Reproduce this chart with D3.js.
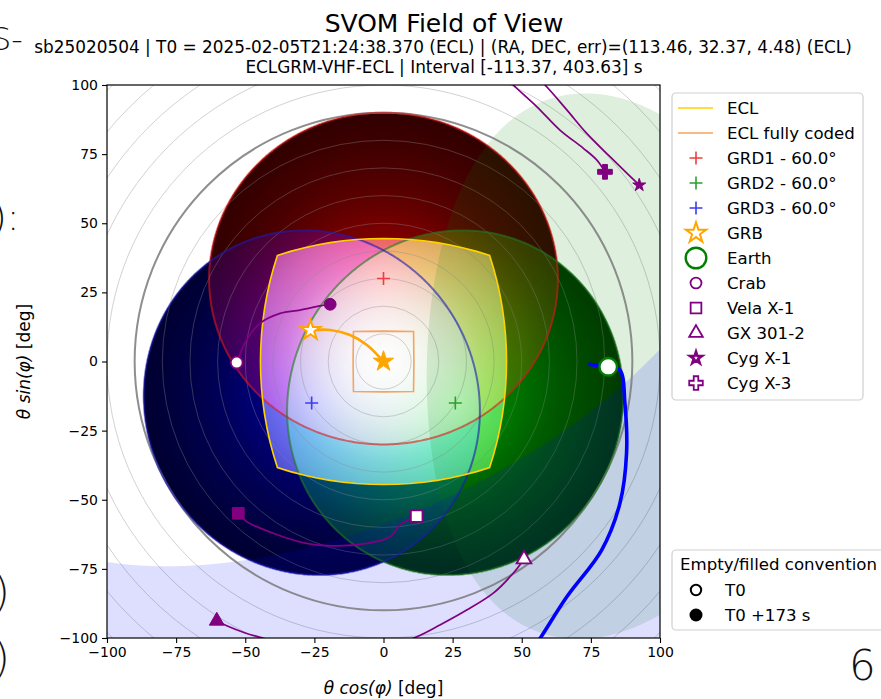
<!DOCTYPE html>
<html lang="en">
<head>
<meta charset="UTF-8">
<title>SVOM Field of View</title>
<script src="https://cdn.jsdelivr.net/npm/d3@7"></script>
<style>
  body { margin: 0; background: #fff; }
  svg text { font-family: "DejaVu Sans", sans-serif; }
</style>
</head>
<body>
<script>
// ---- data ----
var tickValues = [-100, -75, -50, -25, 0, 25, 50, 75, 100];
var gridRadii = [10, 20, 30, 40, 50, 60, 70, 80, 100, 110, 120, 130, 140];
var horizonRadius = 90;

// GRD detectors: (theta, phi) of the axis, angular radius 60 deg
var grdNames = ["GRD1 - 60.0°", "GRD2 - 60.0°", "GRD3 - 60.0°"];
var grdTheta = [30, 30, 30];
var grdPhi = [90, -30, 210];
var grdRadius = 60;

// ECLAIRs field (half size, deg) and fully coded part
var eclHalf = 44.5;
var eclCodedHalf = 11;

// Earth disc at T0 and at T0+173 s (theta, phi), angular radius
var earthTheta = [81.3, 120];
var earthPhi = [-1.34, -65];
var earthRadius = 65.6;

// tracks in plot coordinates (first point T0, last point T0+173 s)
var grbX = [-26.4, -19.3, -12.1, -6, 0];
var grbY = [11.3, 11.4, 9.6, 6, 0];
var crabX = [-53.1, -49.5, -44.7, -37.4, -30.2, -23, -19.3];
var crabY = [-0.4, 7.8, 13.8, 17.4, 18.6, 20.1, 20.7];
var velaX = [12, 6, 2.4, -6.1, -18.2, -27.8, -39.9, -49.5, -52.5];
var velaY = [-55.9, -59.1, -63.4, -65.8, -66.7, -65.8, -62.1, -57.9, -54.9];
var gxX = [50.8, 46.9, 39.7, 30.1, 20.4, 10.8, -5, -25, -42, -50, -56.7, -60.3];
var gxY = [-71.5, -76.6, -83.8, -89.9, -95.3, -100.1, -105, -105.5, -100.5, -98.2, -95.6, -93.8];
var cygX1X = [52, 58.4, 66.3, 73.5, 81.9, 88, 92.5];
var cygX1Y = [106, 100, 91, 82.5, 74.1, 68.1, 63.8];
var cygX3X = [41, 46.9, 55.4, 63.8, 72.3, 77.1, 80.1];
var cygX3Y = [106, 100, 92.2, 83.7, 77.1, 72.9, 68.6];
var earthTrackX = [74.1, 78.3, 81.3, 85.5, 87.3, 87.9, 85.5, 78.9, 66.3, 56.6, 50.7];
var earthTrackY = [-0.9, -1.6, -1.9, -3.1, -15.1, -33.2, -51.3, -68.2, -85.1, -100.2, -108.8];

var legendLabels = ["ECL", "ECL fully coded", "GRD1 - 60.0°", "GRD2 - 60.0°", "GRD3 - 60.0°",
  "GRB", "Earth", "Crab", "Vela X-1", "GX 301-2", "Cyg X-1", "Cyg X-3"];
var conventionLabels = ["T0", "T0 +173 s"];

// ---- layout ----
var W = 881, H = 699;
var x = d3.scaleLinear().domain([-100, 100]).range([107, 660]);
var y = d3.scaleLinear().domain([-100, 100]).range([638, 85]);
var rad = Math.PI / 180;
var purple = "#800080";

var svg = d3.select("body").append("svg")
  .attr("width", W).attr("height", H);
var defs = svg.append("defs");

defs.append("clipPath").attr("id", "plotClip").append("rect")
  .attr("x", x(-100)).attr("y", y(100))
  .attr("width", x(100) - x(-100)).attr("height", y(-100) - y(100));

// azimuthal equidistant projection around the ECLAIRs axis
var proj = d3.geoAzimuthalEquidistant()
  .rotate([0, 0])
  .scale((x(1) - x(0)) / rad)
  .translate([x(0), y(0)])
  .precision(0.1);
var geo = d3.geoPath(proj);

// (theta, phi) relative to the axis -> lon/lat for d3-geo
function sky(theta, phi) {
  var t = theta * rad, p = phi * rad;
  return [Math.atan2(Math.sin(t) * Math.cos(p), Math.cos(t)) / rad,
          Math.asin(Math.sin(t) * Math.sin(p)) / rad];
}
function flat(theta, phi) {
  return [theta * Math.cos(phi * rad), theta * Math.sin(phi * rad)];
}
function gnomonicSquare(half) {
  var t = Math.tan(half * rad);
  var lon = half, lat = Math.atan(t / Math.sqrt(1 + t * t)) / rad;
  return {type: "Polygon", coordinates: [[[-lon, lat], [lon, lat], [lon, -lat], [-lon, -lat], [-lon, lat]]]};
}
function skyCircle(theta, phi, r) {
  return d3.geoCircle().center(sky(theta, phi)).radius(r).precision(0.5)();
}

var grdShapes = grdTheta.map(function(t, i) { return skyCircle(t, grdPhi[i], grdRadius); });
var eclShape = gnomonicSquare(eclHalf);
var eclCodedShape = gnomonicSquare(eclCodedHalf);
var earthShapes = earthTheta.map(function(t, i) { return skyCircle(t, earthPhi[i], earthRadius); });

// radial gradients, radius in deg from (cx, cy); stops [deg, value]
function radial(id, cx, cy, stops, colorOf) {
  var g = defs.append("radialGradient").attr("id", id)
    .attr("gradientUnits", "userSpaceOnUse")
    .attr("cx", x(cx)).attr("cy", y(cy)).attr("r", x(90) - x(0));
  stops.forEach(function(s) {
    var c = colorOf(s[1]);
    g.append("stop").attr("offset", s[0] / 90)
      .attr("stop-color", c[0]).attr("stop-opacity", c[1]);
  });
}
// detector response: full colour on axis, fading with the angle to the axis
var grdRGB = [[1, 0, 0], [0, 1, 0], [0, 0, 1]];
grdTheta.forEach(function(t, i) {
  var c = flat(t, grdPhi[i]);
  radial("grd" + i, c[0], c[1], [[0, 1], [60, 0.45], [90, 0.4]], function(v) {
    return [d3.rgb(grdRGB[i][0] * v * 255, grdRGB[i][1] * v * 255, grdRGB[i][2] * v * 255), 1];
  });
});
// darkening away from the ECLAIRs axis (outside its field), as black with alpha
radial("shadeOut", 0, 0, [[0, 0.6], [50, 0.56], [56, 0.52], [65, 0.48], [90, 0.42]], function(v) {
  return ["#000", 1 - v];
});
// ECLAIRs field glow, as white with alpha
radial("glowIn", 0, 0, [[0, 1], [10, 0.9], [20, 0.75], [28, 0.62], [35, 0.5], [42, 0.42], [47, 0.38], [55, 0.3], [90, 0.3]], function(v) {
  return ["#fff", v];
});

var mOut = defs.append("mask").attr("id", "maskOut").attr("maskUnits", "userSpaceOnUse")
  .attr("x", 0).attr("y", 0).attr("width", W).attr("height", H);
mOut.selectAll("path").data(grdShapes).join("path").attr("d", geo).attr("fill", "#fff");
mOut.append("path").attr("d", geo(eclShape)).attr("fill", "#000");
var mIn = defs.append("mask").attr("id", "maskIn").attr("maskUnits", "userSpaceOnUse")
  .attr("x", 0).attr("y", 0).attr("width", W).attr("height", H);
mIn.append("path").attr("d", geo(eclShape)).attr("fill", "#fff");

var plot = svg.append("g").attr("clip-path", "url(#plotClip)");

// detector discs, additive colours
var discs = plot.append("g").style("isolation", "isolate");
discs.selectAll("path.base").data(grdShapes).join("path").attr("class", "base")
  .attr("d", geo).attr("fill", "#000");
discs.selectAll("path.col").data(grdShapes).join("path").attr("class", "col")
  .attr("d", geo).attr("fill", function(d, i) { return "url(#grd" + i + ")"; })
  .style("mix-blend-mode", "screen");
function plotRect(g) {
  return g.append("rect").attr("x", x(-100)).attr("y", y(100))
    .attr("width", x(100) - x(-100)).attr("height", y(-100) - y(100));
}
plotRect(plot).attr("fill", "url(#shadeOut)").attr("mask", "url(#maskOut)");
plotRect(plot).attr("fill", "url(#glowIn)").attr("mask", "url(#maskIn)");

// off-axis circles
plot.selectAll("circle.grid").data(gridRadii).join("circle").attr("class", "grid")
  .attr("cx", x(0)).attr("cy", y(0))
  .attr("r", function(d) { return x(d) - x(0); })
  .attr("fill", "none").attr("stroke", "#888").attr("stroke-opacity", 0.38).attr("stroke-width", 1);

// Earth at T0 (green) and T0+173 s (blue)
var earthFill = ["#008000", "#0000ff"];
plot.selectAll("path.earth").data(earthShapes).join("path").attr("class", "earth")
  .attr("d", geo).attr("fill", function(d, i) { return earthFill[i]; })
  .attr("fill-opacity", 0.13).attr("stroke", "none");

plot.append("circle").attr("cx", x(0)).attr("cy", y(0)).attr("r", x(horizonRadius) - x(0))
  .attr("fill", "none").attr("stroke", "#7a7a7a").attr("stroke-opacity", 0.85).attr("stroke-width", 2);

// disc outlines
var grdEdge = ["#e01818", "#1f7a1f", "#1a1ab8"];
plot.selectAll("path.edge").data(grdShapes).join("path").attr("class", "edge")
  .attr("d", geo).attr("fill", "none")
  .attr("stroke", function(d, i) { return grdEdge[i]; })
  .attr("stroke-opacity", 0.6).attr("stroke-width", 2);

// ECLAIRs outlines
plot.append("path").attr("d", geo(eclShape)).attr("fill", "none")
  .attr("stroke", "#ffd200").attr("stroke-width", 1.6);
plot.append("path").attr("d", geo(eclCodedShape)).attr("fill", "none")
  .attr("stroke", "#f5a35f").attr("stroke-width", 1.6);

// GRD axes
var grdCross = ["#f03c3c", "#2e9e2e", "#3c3cf0"];
function plusPath(h) { return "M" + (-h) + ",0H" + h + "M0," + (-h) + "V" + h; }
plot.selectAll("path.grd").data(grdTheta).join("path").attr("class", "grd")
  .attr("transform", function(t, i) {
    var c = flat(t, grdPhi[i]);
    return "translate(" + x(c[0]) + "," + y(c[1]) + ")";
  })
  .attr("d", plusPath(6.5)).attr("fill", "none")
  .attr("stroke", function(d, i) { return grdCross[i]; }).attr("stroke-width", 1.6);

// tracks
var line = d3.line()
  .x(function(d) { return x(d[0]); })
  .y(function(d) { return y(d[1]); })
  .curve(d3.curveCatmullRom.alpha(0.5));
function pts(xs, ys) { return xs.map(function(v, i) { return [v, ys[i]]; }); }

plot.append("path").attr("d", line(pts(earthTrackX, earthTrackY)))
  .attr("fill", "none").attr("stroke", "#0000ff").attr("stroke-width", 3.6);

var sources = [
  {xs: crabX, ys: crabY, type: d3.symbolCircle, size: 110},
  {xs: velaX, ys: velaY, type: d3.symbolSquare, size: 135},
  {xs: gxX, ys: gxY, type: d3.symbolTriangle, size: 95},
  {xs: cygX1X, ys: cygX1Y, type: d3.symbolStar, size: 52},
  {xs: cygX3X, ys: cygX3Y, type: d3.symbolCross, size: 120}
];
sources.forEach(function(s) {
  plot.append("path").attr("d", line(pts(s.xs, s.ys)))
    .attr("fill", "none").attr("stroke", purple).attr("stroke-width", 1.7);
});
plot.append("path").attr("d", line(pts(grbX, grbY)))
  .attr("fill", "none").attr("stroke", "#ffa500").attr("stroke-width", 2.6);

function marker(g, px, py, type, size, fill, stroke, sw) {
  return g.append("path")
    .attr("transform", "translate(" + px + "," + py + ")")
    .attr("d", d3.symbol().type(type).size(size)())
    .attr("fill", fill).attr("stroke", stroke).attr("stroke-width", sw);
}
sources.forEach(function(s) {
  var n = s.xs.length - 1;
  marker(plot, x(s.xs[0]), y(s.ys[0]), s.type, s.size, "#fff", purple, 1.8);
  marker(plot, x(s.xs[n]), y(s.ys[n]), s.type, s.size, purple, purple, 1);
});
marker(plot, x(grbX[0]), y(grbY[0]), d3.symbolStar, 120, "#fff", "#ffa500", 2);
marker(plot, x(grbX[grbX.length - 1]), y(grbY[grbY.length - 1]), d3.symbolStar, 130, "#ffa500", "#ffa500", 1);
var e0 = flat(earthTheta[0], earthPhi[0]);
plot.append("circle").attr("cx", x(e0[0])).attr("cy", y(e0[1])).attr("r", 8.8)
  .attr("fill", "#fff").attr("stroke", "#008000").attr("stroke-width", 2.4);

// ---- axes ----
var fmt = function(d) { return d < 0 ? "\u2212" + (-d) : String(d); };
var ax = svg.append("g").attr("transform", "translate(0," + y(-100) + ")")
  .call(d3.axisBottom(x).tickValues(tickValues).tickFormat(fmt).tickSize(5).tickPadding(4));
var ay = svg.append("g").attr("transform", "translate(" + x(-100) + ",0)")
  .call(d3.axisLeft(y).tickValues(tickValues).tickFormat(fmt).tickSize(5).tickPadding(4));
[ax, ay].forEach(function(a) {
  a.select(".domain").remove();
  a.selectAll("line").attr("stroke", "#000").attr("stroke-width", 1.1);
  a.selectAll("text").attr("font-size", 14).attr("fill", "#000")
    .style("font-family", "'DejaVu Sans', sans-serif");
});
svg.append("rect").attr("x", x(-100)).attr("y", y(100))
  .attr("width", x(100) - x(-100)).attr("height", y(-100) - y(100))
  .attr("fill", "none").attr("stroke", "#000").attr("stroke-width", 1.2);

var xl = svg.append("text").attr("x", x(0)).attr("y", 694).attr("text-anchor", "middle").attr("font-size", 17);
xl.append("tspan").attr("font-style", "italic").text("θ cos(φ)");
xl.append("tspan").text(" [deg]");
var yl = svg.append("text").attr("transform", "translate(30," + y(0) + ") rotate(-90)")
  .attr("text-anchor", "middle").attr("font-size", 17);
yl.append("tspan").attr("font-style", "italic").text("θ sin(φ)");
yl.append("tspan").text(" [deg]");

// ---- titles ----
svg.append("text").attr("x", 444).attr("y", 32).attr("text-anchor", "middle")
  .attr("font-size", 25).text("SVOM Field of View");
svg.append("text").attr("x", 443).attr("y", 53).attr("text-anchor", "middle")
  .attr("font-size", 16.9)
  .text("sb25020504 | T0 = 2025-02-05T21:24:38.370 (ECL) | (RA, DEC, err)=(113.46, 32.37, 4.48) (ECL)");
svg.append("text").attr("x", 444).attr("y", 73).attr("text-anchor", "middle")
  .attr("font-size", 16.9).text("ECLGRM-VHF-ECL | Interval [-113.37, 403.63] s");

// ---- legend ----
var lg = svg.append("g");
lg.append("rect").attr("x", 672).attr("y", 93).attr("width", 191).attr("height", 307).attr("rx", 4)
  .attr("fill", "#fff").attr("fill-opacity", 0.85).attr("stroke", "#cfcfcf").attr("stroke-width", 1.2);
var rowY = function(i) { return 108 + i * 25; };
lg.selectAll("text").data(legendLabels).join("text")
  .attr("x", 727).attr("y", function(d, i) { return rowY(i) + 6; })
  .attr("font-size", 16.6).text(function(d) { return d; });
lg.append("line").attr("x1", 678).attr("x2", 713).attr("y1", rowY(0)).attr("y2", rowY(0))
  .attr("stroke", "#ffd200").attr("stroke-width", 1.6);
lg.append("line").attr("x1", 678).attr("x2", 713).attr("y1", rowY(1)).attr("y2", rowY(1))
  .attr("stroke", "#f5a35f").attr("stroke-width", 1.6);
grdCross.forEach(function(c, i) {
  lg.append("path").attr("transform", "translate(696," + rowY(2 + i) + ")")
    .attr("d", plusPath(6.5)).attr("fill", "none").attr("stroke", c).attr("stroke-width", 1.6);
});
marker(lg, 696, rowY(5), d3.symbolStar, 130, "#fff", "#ffa500", 2);
lg.append("circle").attr("cx", 696).attr("cy", rowY(6)).attr("r", 10.3)
  .attr("fill", "#fff").attr("stroke", "#008000").attr("stroke-width", 2.4);
sources.forEach(function(s, i) {
  marker(lg, 696, rowY(7 + i), s.type, s.size * 0.85, "#fff", purple, i === 3 ? 2.6 : 1.8);
});

var cg = svg.append("g");
cg.append("rect").attr("x", 672).attr("y", 550).attr("width", 230).attr("height", 80).attr("rx", 4)
  .attr("fill", "#fff").attr("stroke", "#cfcfcf").attr("stroke-width", 1.2);
cg.append("text").attr("x", 680).attr("y", 570).attr("font-size", 16.6).text("Empty/filled convention");
cg.selectAll("text.row").data(conventionLabels).join("text").attr("class", "row")
  .attr("x", 725).attr("y", function(d, i) { return 596 + i * 25; })
  .attr("font-size", 16.6).text(function(d) { return d; });
cg.append("circle").attr("cx", 696).attr("cy", 590).attr("r", 5.2)
  .attr("fill", "#fff").attr("stroke", "#000").attr("stroke-width", 2);
cg.append("circle").attr("cx", 696).attr("cy", 615).attr("r", 6.5).attr("fill", "#000");

// ---- bits of the surrounding slide ----
var edge = svg.append("g").attr("font-weight", 300).attr("fill", "#111");
edge.append("text").attr("x", -9).attr("y", 50).attr("font-size", 32).text("S-");
edge.append("text").attr("x", -8).attr("y", 230).attr("font-size", 38).text("):");
edge.append("text").attr("x", -6).attr("y", 606).attr("font-size", 40).text(")");
edge.append("text").attr("x", -6).attr("y", 672).attr("font-size", 40).text(")");
edge.append("text").attr("x", 849).attr("y", 680).attr("font-size", 42).text("6");
</script>
</body>
</html>
